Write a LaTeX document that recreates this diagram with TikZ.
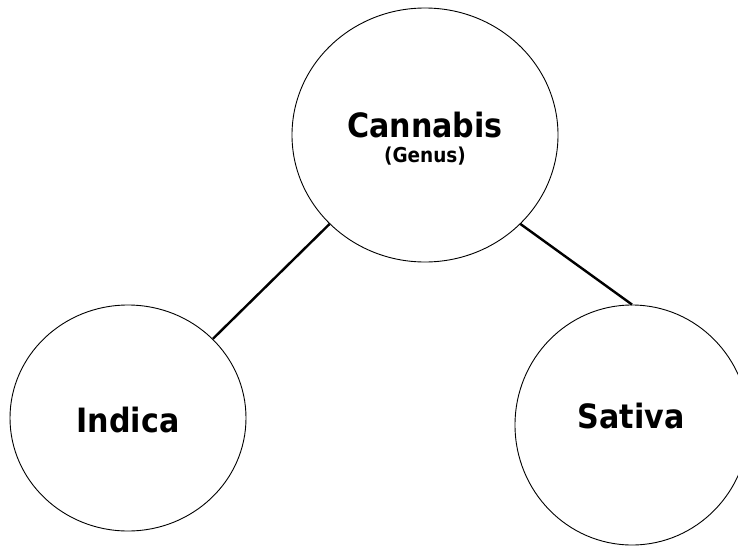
\documentclass[tikz,border=0pt]{standalone}
\usepackage{fontspec}
\setmainfont{DejaVu Sans Condensed}[BoldFont={DejaVu Sans Condensed Bold}]
\usetikzlibrary{shapes.geometric}
\begin{document}
\begin{tikzpicture}[x=1pt,y=-1pt,
  taxon/.style={draw=black,line width=0.9pt,ellipse,inner sep=0pt},
  link/.style={draw=black,line width=2.4pt},
  bigname/.style={font=\bfseries\fontsize{33.5}{36}\selectfont,inner sep=0pt,anchor=base},
  smallname/.style={font=\bfseries\fontsize{20.5}{23}\selectfont,inner sep=0pt,anchor=base}]
  \useasboundingbox (0,0) rectangle (738,546);
  % the three taxa
  \node[taxon,minimum width=266pt,minimum height=254pt] (genus) at (425,135) {};
  \node[taxon,minimum width=236pt,minimum height=226pt] (indica) at (128,418) {};
  \node[taxon,minimum width=234pt,minimum height=240pt] (sativa) at (632,425) {};
  % labels
  \node[bigname] (tgenus) at (425,137) {Cannabis};
  \node[smallname] (tsub) at (425,162) {(Genus)};
  \node[bigname] (tindica) at (128,432) {Indica};
  \node[bigname] (tsativa) at (631,428) {Sativa};
  % branches
  \draw[link] (genus.223.4) -- (indica.43.6);
  \draw[link] (genus.317.8) -- (sativa.90);
\end{tikzpicture}
\end{document}
